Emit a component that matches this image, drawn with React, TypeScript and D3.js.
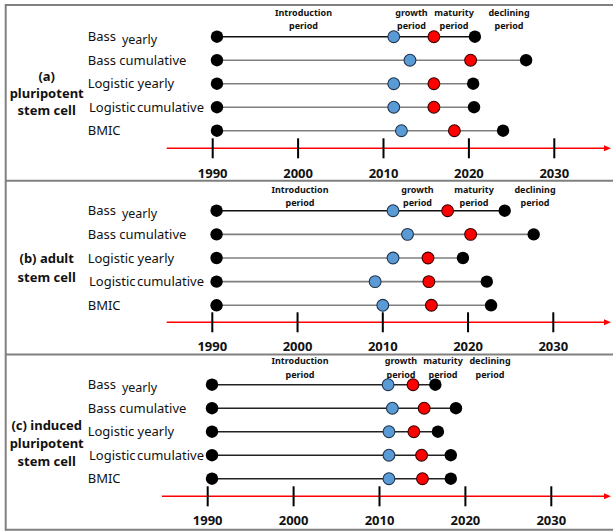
import React from "react";
import * as d3 from "d3";

// Lifecycle stage years per forecasting method, for three stem-cell technologies
const methods = ["Bass", "Bass cumulative", "Logistic yearly", "Logistic cumulative", "BMIC"];
const tickYears = [1990, 2000, 2010, 2020, 2030];
const stageNames = [["Introduction", "period"], ["growth", "period"], ["maturity", "period"], ["declining", "period"]];

const introA = [1990.5, 1990.5, 1990.5, 1990.5, 1990.5];
const growthA = [2011.2, 2013.1, 2011.2, 2011.2, 2012.1];
const maturityA = [2015.9, 2020.2, 2015.9, 2015.9, 2018.3];
const decliningA = [2020.7, 2026.7, 2020.5, 2020.6, 2024.0];

const introB = [1990.5, 1990.5, 1990.5, 1990.5, 1990.5];
const growthB = [2011.2, 2012.9, 2011.2, 2009.1, 2010.0];
const maturityB = [2017.6, 2020.3, 2015.3, 2015.4, 2015.7];
const decliningB = [2024.3, 2027.7, 2019.4, 2022.2, 2022.7];

const introC = [1990.5, 1990.5, 1990.5, 1990.5, 1990.5];
const growthC = [2011.0, 2011.5, 2011.1, 2011.1, 2011.1];
const maturityC = [2013.9, 2015.2, 2014.0, 2014.9, 2015.0];
const decliningC = [2016.5, 2018.9, 2016.8, 2018.3, 2018.3];

const titleA = ["(a)", "pluripotent", "stem cell"];
const titleB = ["(b) adult", "stem cell"];
const titleC = ["(c) induced", "pluripotent", "stem cell"];

const W = 613;
const H = 531;

type Panel = {
  title: string[];
  titleY: number[];
  intro: number[];
  growth: number[];
  maturity: number[];
  declining: number[];
  range: [number, number];
  rowY0: number;
  rowStep: number;
  axisY: number;
  axisX0: number;
  tickLabelY: number;
  headerX: number[];
  headerY: [number, number];
  lineColors: string[];
};

const panels: Panel[] = [
  {
    title: titleA, titleY: [76, 93.5, 110.5],
    intro: introA, growth: growthA, maturity: maturityA, declining: decliningA,
    range: [212.7, 554.3], rowY0: 36.7, rowStep: 23.5, axisY: 148.3, axisX0: 166.7, tickLabelY: 173,
    headerX: [303.5, 411.5, 454, 509], headerY: [13.3, 26],
    lineColors: ["#111", "#7f7f7f", "#7f7f7f", "#7f7f7f", "#7f7f7f"],
  },
  {
    title: titleB, titleY: [258.7, 277],
    intro: introB, growth: growthB, maturity: maturityB, declining: decliningB,
    range: [212.3, 553.3], rowY0: 210.7, rowStep: 23.65, axisY: 322.3, axisX0: 166.7, tickLabelY: 346.5,
    headerX: [300, 417.5, 474, 535], headerY: [190, 202.7],
    lineColors: ["#111", "#7f7f7f", "#7f7f7f", "#7f7f7f", "#7f7f7f"],
  },
  {
    title: titleC, titleY: [425.3, 443.7, 461],
    intro: introC, growth: growthC, maturity: maturityC, declining: decliningC,
    range: [207.7, 551.3], rowY0: 384.7, rowStep: 23.5, axisY: 496.3, axisX0: 162, tickLabelY: 520.5,
    headerX: [300, 401, 443, 490], headerY: [361.3, 375.3],
    lineColors: ["#222", "#222", "#222", "#222", "#222"],
  },
];

const dividers = [5, 180.7, 354.5, 529.7];

const labelFont = "'Noto Sans', 'Open Sans', sans-serif";

function PanelView({ p }: { p: Panel }) {
  const x = d3.scaleLinear().domain([1990, 2030]).range(p.range);
  const y = d3.scaleLinear().domain([0, 1]).range([p.rowY0, p.rowY0 + p.rowStep]);
  const line = d3.line<number>().x((d) => x(d)).y(0);
  const arrowEnd = 611;
  return (
    <g>
      {/* panel title */}
      {p.title.map((t, i) => (
        <text key={t + i} x={46.7} y={p.titleY[i]} dy="0.35em" textAnchor="middle"
          fontFamily={labelFont} fontWeight="bold" fontSize={13} fill="#111">{t}</text>
      ))}
      {/* stage headers */}
      {stageNames.map((s, i) => (
        <g key={s[0]}>
          {s.map((w, j) => (
            <text key={w} x={p.headerX[i]} y={p.headerY[j]} dy="0.35em" textAnchor="middle"
              fontFamily={labelFont} fontWeight="bold" fontSize={9} fill="#111">{w}</text>
          ))}
        </g>
      ))}
      {/* method rows */}
      {methods.map((m, i) => {
        const yy = y(i);
        const pts = [p.intro[i], p.growth[i], p.maturity[i], p.declining[i]];
        return (
          <g key={m}>
            {i === 0 ? (
              <text x={87.7} y={yy} dy="0.35em" fontFamily={labelFont} fontSize={13} fill="#111">
                Bass
                <tspan dx={6} dy={3} fontSize={12.5}>yearly</tspan>
              </text>
            ) : (
              <text x={i === 3 ? 89 : 87.7} y={yy} dy="0.35em" fontFamily={labelFont} fontSize={13} fill="#111"
                wordSpacing={i === 3 ? -2 : 0}>{m}</text>
            )}
            <path d={line([pts[0], pts[3]]) ?? ""} transform={`translate(0,${yy})`}
              stroke={p.lineColors[i]} strokeWidth={1.6} fill="none" />
            <circle cx={x(pts[0])} cy={yy} r={6.2} fill="#000" />
            <circle cx={x(pts[1])} cy={yy} r={5.9} fill="#5b9bd5" stroke="#1f3550" strokeWidth={1.1} />
            <circle cx={x(pts[2])} cy={yy} r={5.9} fill="#ff0000" stroke="#3a0000" strokeWidth={1.1} />
            <circle cx={x(pts[3])} cy={yy} r={6.2} fill="#000" />
          </g>
        );
      })}
      {/* time axis */}
      <line x1={p.axisX0} x2={arrowEnd - 6} y1={p.axisY} y2={p.axisY} stroke="#ff0000" strokeWidth={1.5} />
      <path d={`M${arrowEnd},${p.axisY} L${arrowEnd - 7},${p.axisY - 3} L${arrowEnd - 7},${p.axisY + 3} Z`} fill="#ff0000" />
      {tickYears.map((t) => (
        <g key={t}>
          <line x1={x(t)} x2={x(t)} y1={p.axisY - 10} y2={p.axisY + 10} stroke="#000" strokeWidth={2} />
          <text x={x(t)} y={p.tickLabelY} dy="0.35em" textAnchor="middle"
            fontFamily={labelFont} fontWeight="bold" fontSize={13} fill="#111">{t}</text>
        </g>
      ))}
    </g>
  );
}

export default function App() {
  return (
    <svg width={W} height={H} style={{ position: "absolute", left: 0, top: 0, background: "#fff" }}>
      <rect x={0} y={0} width={W} height={H} fill="#fff" />
      {dividers.map((d, i) => (
        <line key={i} x1={5} x2={W} y1={d} y2={d} stroke="#808080" strokeWidth={2} />
      ))}
      <line x1={5.7} x2={5.7} y1={4} y2={530.7} stroke="#808080" strokeWidth={2} />
      {panels.map((p, i) => (
        <PanelView key={i} p={p} />
      ))}
    </svg>
  );
}
